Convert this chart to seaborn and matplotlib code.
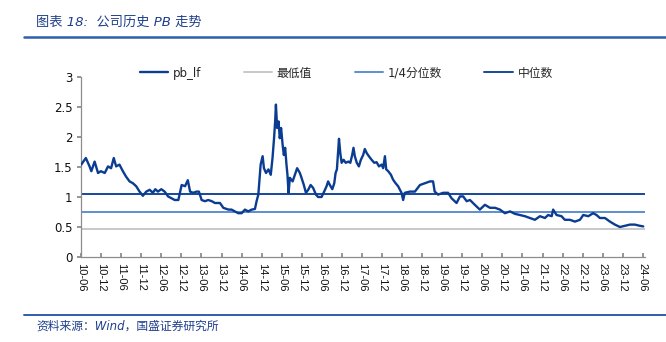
import matplotlib
matplotlib.use("Agg")
import matplotlib.pyplot as plt
import matplotlib.dates as mdates
from matplotlib.lines import Line2D
from matplotlib.ticker import FuncFormatter, MultipleLocator
import seaborn as sns
import pandas as pd

# ---------------- data ----------------
dates = [
    "2010-06-03", "2010-07-15", "2010-08-18", "2010-09-03", "2010-10-03", "2010-11-03", "2010-11-29",
    "2011-01-03", "2011-02-02", "2011-03-02", "2011-03-26", "2011-04-17", "2011-05-17", "2011-06-17",
    "2011-07-16", "2011-08-17", "2011-09-16", "2011-10-16", "2011-11-16", "2011-12-16", "2012-01-16",
    "2012-02-16", "2012-03-16", "2012-04-07", "2012-05-01", "2012-06-01", "2012-07-01", "2012-08-01",
    "2012-09-01", "2012-10-01", "2012-11-03", "2012-12-03", "2013-01-03", "2013-01-28", "2013-02-18",
    "2013-03-18", "2013-04-18", "2013-05-09", "2013-06-03", "2013-07-03", "2013-08-02", "2013-09-03",
    "2013-10-02", "2013-11-17", "2013-12-17", "2014-02-02", "2014-03-02", "2014-04-02", "2014-05-02",
    "2014-06-02", "2014-07-02", "2014-08-01", "2014-09-01", "2014-10-01", "2014-10-16", "2014-11-01",
    "2014-11-22", "2014-12-10", "2014-12-22", "2015-01-10", "2015-02-01", "2015-02-22", "2015-03-10",
    "2015-03-24", "2015-04-03", "2015-04-10", "2015-04-21", "2015-05-04", "2015-05-15", "2015-05-27",
    "2015-06-10", "2015-06-21", "2015-07-03", "2015-07-15", "2015-07-24", "2015-08-03", "2015-08-15",
    "2015-09-09", "2015-09-30", "2015-10-20", "2015-11-14", "2015-11-29", "2015-12-20", "2016-01-08",
    "2016-01-29", "2016-02-20", "2016-03-14", "2016-04-08", "2016-04-28", "2016-05-29", "2016-06-22",
    "2016-07-14", "2016-07-28", "2016-08-13", "2016-09-04", "2016-09-22", "2016-10-04", "2016-10-16",
    "2016-10-28", "2016-11-04", "2016-11-16", "2016-11-28", "2016-12-16", "2017-01-04", "2017-01-28",
    "2017-02-15", "2017-03-04", "2017-03-16", "2017-03-28", "2017-04-15", "2017-05-04", "2017-05-22",
    "2017-06-12", "2017-06-27", "2017-07-15", "2017-08-03", "2017-08-28", "2017-09-21", "2017-10-12",
    "2017-11-03", "2017-11-27", "2017-12-11", "2017-12-27", "2018-01-08", "2018-01-26", "2018-02-20",
    "2018-03-11", "2018-04-03", "2018-04-26", "2018-05-27", "2018-06-11", "2018-06-26", "2018-08-11",
    "2018-09-26", "2018-11-11", "2018-12-26", "2019-02-10", "2019-03-10", "2019-03-25", "2019-04-25",
    "2019-06-10", "2019-07-25", "2019-08-25", "2019-10-10", "2019-11-10", "2019-12-09", "2020-01-10",
    "2020-02-09", "2020-03-24", "2020-05-09", "2020-06-24", "2020-08-09", "2020-09-24", "2020-11-08",
    "2020-12-23", "2021-02-08", "2021-03-23", "2021-05-08", "2021-06-23", "2021-08-08", "2021-09-22",
    "2021-11-07", "2021-12-22", "2022-01-21", "2022-02-22", "2022-03-07", "2022-04-07", "2022-05-22",
    "2022-06-21", "2022-08-06", "2022-09-21", "2022-11-06", "2022-12-06", "2023-01-21", "2023-03-06",
    "2023-04-06", "2023-05-06", "2023-06-21", "2023-08-06", "2023-09-20", "2023-11-05", "2023-12-20",
    "2024-02-04", "2024-03-20", "2024-05-04", "2024-06-04",
]
pb_lf = [
    1.54, 1.65, 1.51, 1.43, 1.59, 1.40, 1.43,
    1.40, 1.51, 1.48, 1.65, 1.51, 1.54, 1.43,
    1.34, 1.26, 1.23, 1.18, 1.09, 1.02, 1.09,
    1.12, 1.07, 1.13, 1.09, 1.13, 1.09, 1.01,
    0.98, 0.95, 0.95, 1.20, 1.18, 1.28, 1.09,
    1.07, 1.09, 1.09, 0.95, 0.93, 0.95, 0.93,
    0.90, 0.90, 0.82, 0.79, 0.79, 0.76, 0.73,
    0.73, 0.79, 0.76, 0.79, 0.80, 0.93, 1.04,
    1.54, 1.68, 1.48, 1.40, 1.46, 1.37, 1.65,
    1.98, 2.26, 2.54, 2.15, 2.26, 1.98, 2.15,
    1.87, 1.70, 1.82, 1.54, 1.37, 1.07, 1.32,
    1.26, 1.37, 1.48, 1.40, 1.32, 1.20, 1.07,
    1.12, 1.20, 1.15, 1.04, 1.00, 1.00, 1.09,
    1.18, 1.26, 1.20, 1.13, 1.23, 1.40, 1.46,
    1.79, 1.97, 1.73, 1.57, 1.62, 1.57, 1.59,
    1.57, 1.70, 1.82, 1.68, 1.57, 1.51, 1.62,
    1.70, 1.80, 1.73, 1.68, 1.62, 1.57, 1.58,
    1.51, 1.54, 1.48, 1.68, 1.46, 1.43, 1.37,
    1.29, 1.23, 1.18, 1.07, 0.95, 1.07, 1.09,
    1.09, 1.20, 1.23, 1.26, 1.26, 1.09, 1.04,
    1.07, 1.07, 0.98, 0.90, 1.01, 1.01, 0.93,
    0.95, 0.87, 0.79, 0.87, 0.82, 0.82, 0.79,
    0.73, 0.76, 0.72, 0.70, 0.68, 0.65, 0.62,
    0.68, 0.65, 0.70, 0.68, 0.79, 0.70, 0.68,
    0.62, 0.62, 0.59, 0.62, 0.70, 0.68, 0.73,
    0.70, 0.65, 0.65, 0.59, 0.54, 0.50, 0.52,
    0.54, 0.54, 0.52, 0.51,
]
min_value = 0.47
quartile_value = 0.755
median_value = 1.045

series_labels = ["pb_lf", "最低值", "1/4分位数", "中位数"]
tick_dates = pd.date_range("2010-06-01", "2024-06-01", freq="6MS")
title_text = "图表 18:  公司历史 PB 走势"
source_text = "资料来源：Wind，国盛证券研究所"

# ---------------- style ----------------
sns.set_theme(style="white")
plt.rcParams["font.family"] = ["DejaVu Sans", "Noto Sans CJK SC"]

c_pb = "#0A3D91"
c_min = "#C8C8C8"
c_q = "#5E8ED0"
c_med = "#17479B"
c_text_blue = "#1F3E8C"

df = pd.DataFrame({"date": pd.to_datetime(dates), "pb_lf": pb_lf})

fig = plt.figure(figsize=(6.66, 3.42), dpi=100)
ax = fig.add_axes([81 / 666, 1 - 257 / 342, (645 - 81) / 666, 180 / 342])

ax.axhline(min_value, color=c_min, lw=1.4, label=series_labels[1], zorder=1)
ax.axhline(quartile_value, color=c_q, lw=1.4, label=series_labels[2], zorder=1)
ax.axhline(median_value, color=c_med, lw=1.4, label=series_labels[3], zorder=1)
sns.lineplot(data=df, x="date", y="pb_lf", ax=ax, color=c_pb, lw=1.7,
             label=series_labels[0], zorder=3, legend=False)

ax.set_ylim(0, 3)
ax.yaxis.set_major_locator(MultipleLocator(0.5))
ax.yaxis.set_major_formatter(FuncFormatter(lambda v, p: f"{v:g}"))
ax.set_xlim(pd.Timestamp("2010-06-01"), pd.Timestamp("2024-06-20"))
ax.set_xticks(tick_dates)
ax.set_xticklabels([d.strftime("%y-%m") for d in tick_dates], rotation=270,
                   fontsize=8, fontfamily="Liberation Sans")
ax.set_xlabel("")
ax.set_ylabel("")
for lab in ax.get_yticklabels():
    lab.set_fontsize(8.5)
ax.tick_params(axis="x", direction="in", length=3, color="#888888", pad=4, labelcolor="#111111")
ax.tick_params(axis="y", direction="out", length=3, color="#888888", pad=3, labelcolor="#111111")
ax.tick_params(left=True, bottom=True)
for s in ["top", "right"]:
    ax.spines[s].set_visible(False)
for s in ["left", "bottom"]:
    ax.spines[s].set_color("#8C8C8C")
    ax.spines[s].set_linewidth(0.9)
ax.grid(False)

h, l = ax.get_legend_handles_labels()
order = [l.index(x) for x in series_labels]
leg = fig.legend([h[i] for i in order], [l[i] for i in order], loc="center",
                 bbox_to_anchor=(0.52, 1 - 73 / 342), ncol=4, frameon=False,
                 handlelength=2.4, columnspacing=3.6, handletextpad=0.4,
                 prop={"family": ["DejaVu Sans", "Noto Sans CJK SC"], "size": 8.5})

# title and rules
fig.text(36 / 666, 1 - 22 / 342, title_text, fontsize=9.5, color=c_text_blue, style="italic",
         va="center", ha="left", family=["DejaVu Sans", "Noto Sans CJK SC"])
fig.add_artist(Line2D([24 / 666, 1], [1 - 36.5 / 342] * 2, transform=fig.transFigure,
                      color="#2F5FAA", lw=1.8))
fig.add_artist(Line2D([24 / 666, 1], [1 - 315 / 342] * 2, transform=fig.transFigure,
                      color="#2F5FAA", lw=1.4))
fig.text(36 / 666, 1 - 326 / 342, source_text, fontsize=8.5, color=c_text_blue, style="italic",
         va="center", ha="left", family=["DejaVu Sans", "Noto Sans CJK SC"])

fig.savefig("out.png", dpi=100)
